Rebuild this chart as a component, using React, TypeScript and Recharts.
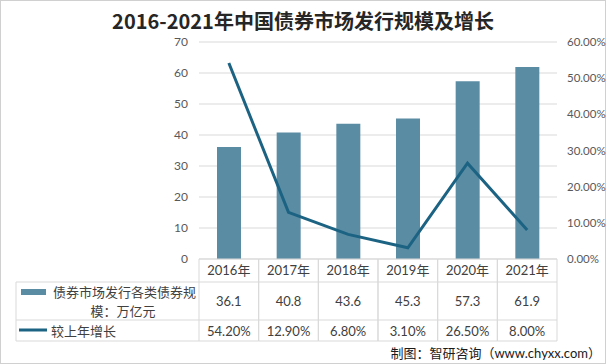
import { ComposedChart, Bar, Line, XAxis, YAxis, CartesianGrid } from 'recharts';

const years = ['2016年', '2017年', '2018年', '2019年', '2020年', '2021年'];
const scaleValues = [36.1, 40.8, 43.6, 45.3, 57.3, 61.9];
const growthValues = [54.2, 12.9, 6.8, 3.1, 26.5, 8.0];
const leftTicks = [0, 10, 20, 30, 40, 50, 60, 70];
const rightTicks = [0, 10, 20, 30, 40, 50, 60];

const data = years.map((year, i) => ({ year, scale: scaleValues[i], growth: growthValues[i] }));

const FONT = 'Lato, "Noto Sans CJK SC", sans-serif';
const GRID = '#d9d9d9';
const BAR = '#5a8ca3';
const LINE = '#1c6383';
const TEXT = '#404040';

const COL_W = 358 / years.length;
const ROW_HEAD = 282;
const ROW_ONE = 320;
const ROW_TWO = 341;

// each x tick draws its own table column (year, value, growth)
function TableTick(props: any) {
  const { x, y, index } = props;
  const l = x - COL_W / 2;
  const r = x + COL_W / 2;
  return (
    <g fontFamily={FONT} fontSize={13} fill={TEXT}>
      <line x1={l} x2={r} y1={y} y2={y} stroke={GRID} />
      <line x1={l} x2={r} y1={ROW_HEAD} y2={ROW_HEAD} stroke={GRID} />
      <line x1={l} x2={r} y1={ROW_ONE} y2={ROW_ONE} stroke={GRID} />
      <line x1={l} x2={r} y1={ROW_TWO} y2={ROW_TWO} stroke={GRID} />
      <line x1={l} x2={l} y1={y} y2={ROW_TWO} stroke={GRID} />
      <line x1={r} x2={r} y1={y} y2={ROW_TWO} stroke={GRID} />
      <text x={x} y={275} textAnchor="middle">{years[index]}</text>
      <text x={x} y={306} textAnchor="middle">{scaleValues[index].toFixed(1)}</text>
      <text x={x} y={336} textAnchor="middle">{growthValues[index].toFixed(2)}%</text>
    </g>
  );
}

export default function App() {
  return (
    <div
      style={{
        position: 'absolute',
        left: 0,
        top: 0,
        width: 606,
        height: 364,
        background: '#fff',
        boxSizing: 'border-box',
        border: '1px solid #d0d0d0',
      }}
    >
      <ComposedChart
        width={606}
        height={364}
        data={data}
        margin={{ top: 42, right: 0, bottom: 5, left: 139 }}
        style={{ position: 'absolute', left: -1, top: -1 }}
      >
        <CartesianGrid vertical={false} stroke={GRID} yAxisId="left" />
        <XAxis
          dataKey="year"
          height={100}
          axisLine={false}
          tickLine={false}
          tickSize={0}
          tickMargin={0}
          interval={0}
          tick={<TableTick />}
        />
        <YAxis
          yAxisId="left"
          width={60}
          domain={[0, 70]}
          ticks={leftTicks}
          axisLine={false}
          tickLine={false}
          tickMargin={5}
          tick={{ fill: '#595959', fontSize: 12, fontFamily: FONT }}
        />
        <YAxis
          yAxisId="right"
          orientation="right"
          width={49}
          domain={[0, 60]}
          ticks={rightTicks}
          axisLine={false}
          tickLine={false}
          tickMargin={4}
          tickFormatter={(v: number) => `${v.toFixed(2)}%`}
          tick={{ fill: '#595959', fontSize: 11.5, fontFamily: FONT, textAnchor: 'start' }}
        />
        <Bar yAxisId="left" dataKey="scale" fill={BAR} barSize={24} isAnimationActive={false} />
        <Line
          yAxisId="right"
          type="linear"
          dataKey="growth"
          stroke={LINE}
          strokeWidth={3}
          dot={false}
          isAnimationActive={false}
        />
      </ComposedChart>
      <svg
        width={606}
        height={364}
        style={{ position: 'absolute', left: -1, top: -1, pointerEvents: 'none' }}
      >
        <text
          x={303}
          y={29}
          textAnchor="middle"
          fontFamily={'"Noto Sans CJK SC", sans-serif'}
          fontWeight="bold"
          fontSize={20}
          fill="#262626"
        >
          2016-2021年中国债券市场发行规模及增长
        </text>
        <g stroke={GRID}>
          <line x1={16} x2={199} y1={ROW_HEAD} y2={ROW_HEAD} />
          <line x1={16} x2={199} y1={ROW_ONE} y2={ROW_ONE} />
          <line x1={16} x2={199} y1={ROW_TWO} y2={ROW_TWO} />
          <line x1={16} x2={16} y1={ROW_HEAD} y2={ROW_TWO} />
        </g>
        <rect x={21} y={289} width={25} height={6} fill={BAR} />
        <line x1={19} x2={47} y1={330} y2={330} stroke={LINE} strokeWidth={3} />
        <g fontFamily={FONT} fontSize={13} fill={TEXT}>
          <text x={53} y={297}>债券市场发行各类债券规</text>
          <text x={123} y={316} textAnchor="middle">模：万亿元</text>
          <text x={51} y={336}>较上年增长</text>
        </g>
        <text x={601} y={358} textAnchor="end" fontFamily={FONT} fontSize={13} fill="#1a1a1a">
          制图：智研咨询（www.chyxx.com）
        </text>
      </svg>
    </div>
  );
}
